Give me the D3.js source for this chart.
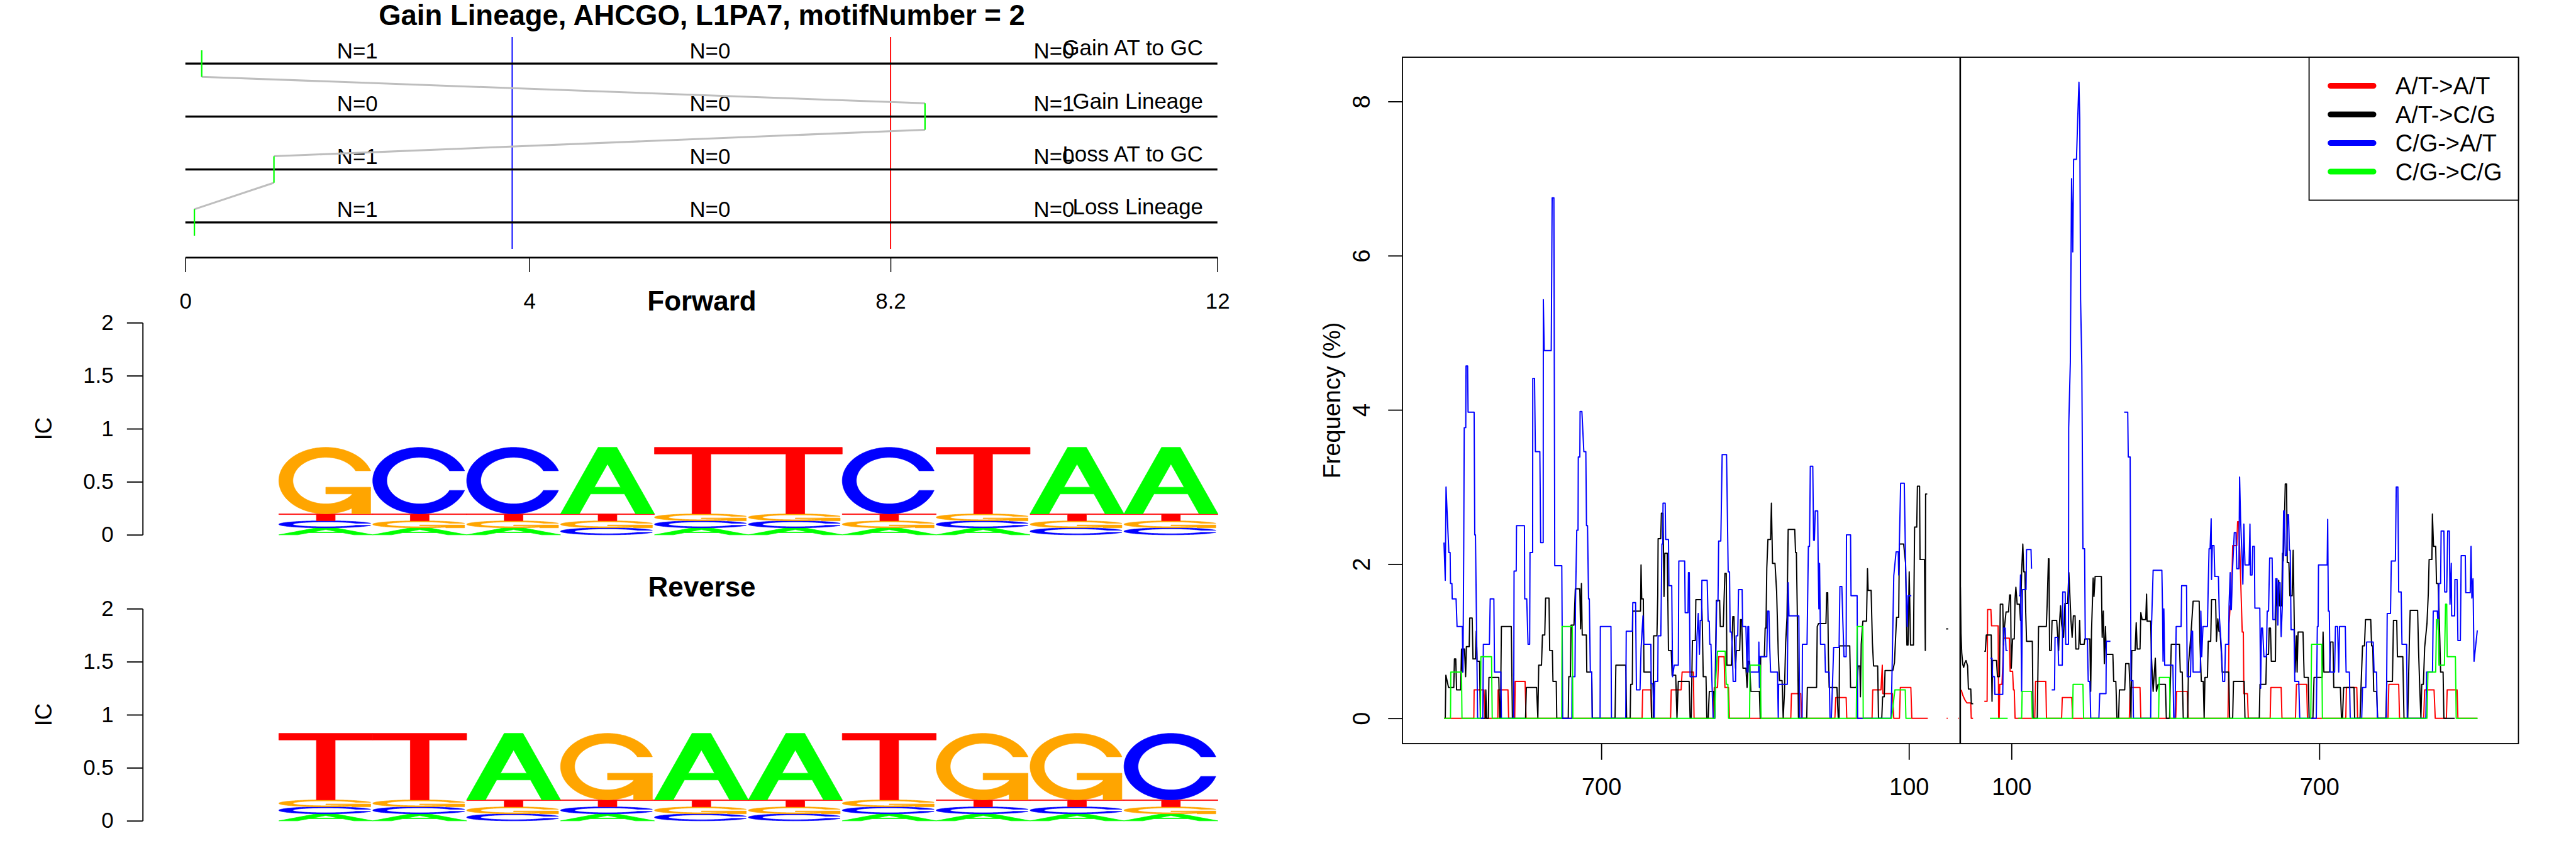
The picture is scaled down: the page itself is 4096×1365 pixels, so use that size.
<!DOCTYPE html>
<html><head><meta charset="utf-8">
<script src="https://cdn.jsdelivr.net/npm/d3@7"></script>
<style>html,body{margin:0;padding:0;background:#fff;overflow:hidden}svg{display:block}</style>
</head><body>
<svg id="chart" width="4096" height="1365" viewBox="0 0 5400 1800"></svg>
<script>
// ---------------- DATA ----------------
const mainTitle = "Gain Lineage, AHCGO, L1PA7, motifNumber = 2";
const rowLabels = ["Gain AT to GC", "Gain Lineage", "Loss AT to GC", "Loss Lineage"];
const rowPos = [4, 3, 2, 1];
const nCounts = [[1, 0, 0], [0, 0, 1], [1, 0, 0], [1, 0, 0]];
const nLabelPos = [2, 6.1, 10.1];
const topTicks = [0, 4, 8.2, 12];
const blueCut = 3.8, redCut = 8.2;
const pathPos = [0.19, 8.6, 1.03, 0.105];

const bases = ["A", "C", "G", "T"];
const fwdA = [0.08, 0.08, 0.08, 0.76, 0.08, 0.08, 0.08, 0.08, 0.76, 0.76];
const fwdC = [0.08, 0.76, 0.76, 0.08, 0.08, 0.08, 0.76, 0.08, 0.08, 0.08];
const fwdG = [0.76, 0.08, 0.08, 0.08, 0.08, 0.08, 0.08, 0.08, 0.08, 0.08];
const fwdT = [0.08, 0.08, 0.08, 0.08, 0.76, 0.76, 0.08, 0.76, 0.08, 0.08];
const icTicks = [0, 0.5, 1, 1.5, 2];

const legendLabels = ["A/T->A/T", "A/T->C/G", "C/G->A/T", "C/G->C/G"];
const seriesColors = ["#FF0000", "#000000", "#0000FF", "#00FF00"];
const freqTicks = [0, 2, 4, 6, 8];
const posTicks = [700, 100];

// left half (distance decreasing toward centre), right half (distance increasing)
const atatL = [[1007,0],[948.8,0],[948.2,0.37],[928.9,0.37],[927,0],[902,0],[901.4,0.37],[882.2,0.37],[880.9,0],[869,0],[868.1,0.48],[848.8,0.48],[846.9,0],[620.5,0],[619.4,0.37],[603.4,0.37],[602.1,0],[565,0],[563.7,0.37],[544.4,0.37],[542.5,0.6],[520.5,0.6],[519.2,0],[481.5,0],[479.8,0.4],[473.4,0.4],[471.2,0.8],[460.6,0.8],[459,0.4],[452,0.4],[450.2,0],[330.5,0],[329.2,0.32],[311,0.32],[309.1,0],[244.5,0],[242.8,0.27],[222.5,0.27],[221.3,0],[172,0],[170.6,0.37],[154.6,0.37],[152,0.69],[151,0.32],[132.2,0.32],[129.6,0],[118.5,0],[116.8,0.4],[96.3,0.4],[94.4,0],[63.3,0],null,[26.5,0],[24.5,0],null,[4,0],[2.5,0]];
const atcgL = [[1004.5,0],[1003.3,0.56],[998.1,0.4],[987.9,0.4],[986.6,0.77],[984,0.77],[982.4,0.37],[974.4,0.37],[972.8,0.9],[970.8,0.6],[969.5,0.9],[967,0.9],[964.8,0.54],[963.3,0.93],[957.8,0.93],[956.8,1.3],[952,1.3],[950.4,0.77],[945.6,0.77],[944,1.13],[942.4,0.74],[937.6,0.74],[936,0],[926.5,0],[925.4,0.37],[924,0],[920.5,0],[919.3,0.53],[900.1,0.53],[898.2,0],[896.9,0],[895,1.19],[875.7,1.19],[873.5,0],[847.9,0],[846.3,0.4],[826.4,0.4],[823.9,0],[822.2,0.69],[816.8,0.69],[814.9,1.08],[810.4,1.08],[808.8,1.56],[802.1,1.56],[800.8,0.88],[795.6,0.88],[794.4,0.48],[788,0.48],[787,0],[764.6,0],[763.6,0.54],[760.4,0.54],[759.1,1.21],[753.4,1.21],[750.8,1.68],[742.1,1.68],[740.5,1.16],[738.9,1.75],[737.3,1.08],[729.3,1.08],[728.4,0.6],[718.8,0.6],[717.5,0],[673.3,0],[671.7,0.69],[652.4,0.69],[650.8,0],[643.8,0],[642.8,0.44],[639.6,0.44],[638.7,1.39],[623.6,1.39],[622.6,1.99],[621.3,1.55],[618.2,1.55],[616.9,0.6],[603.4,0.6],[602.1,0],[598.9,0],[598,1.07],[591.6,1.07],[590,1.6],[589.3,2.33],[584.2,2.33],[582.9,2.66],[579.7,2.66],[577.8,1.58],[576.2,2.14],[571.4,2.14],[569.1,0.88],[563.7,0.88],[562,0.56],[555,0.56],[552.5,0],[549.9,0.48],[528.8,0.48],[526.9,0],[524.7,0],[522.4,1.01],[516.7,1.01],[515.7,1.54],[504.5,1.54],[503.2,1.26],[501.3,0.54],[495.9,0.54],[494.3,0],[491.7,0],[489.4,0.35],[480.8,0.35],[478.9,0],[476.7,1.04],[475.7,1.53],[469.3,1.53],[468,1.19],[462.2,1.19],[460.6,1.55],[459,1.88],[456.4,1.88],[455.2,0.69],[446.2,0.69],[443.6,1.32],[441.4,1.32],[439.8,0.88],[438.2,0.65],[436.6,0.88],[430.2,0.88],[428.6,1.28],[426.3,1.28],[423.8,0.65],[418,0.65],[415.8,0.4],[413.5,0.74],[410.9,0.74],[408.4,0.35],[391.7,0.35],[390.1,0],[389.2,0.8],[382.1,0.8],[380.5,1.17],[378.9,1.17],[377.3,1.95],[375.1,2.32],[369.9,2.32],[368.3,2.79],[366.1,2.01],[361.3,2.01],[358.1,1.64],[354.9,0.84],[352.6,0.49],[347.5,0.49],[345.3,0],[343,0.31],[340.5,0.98],[337.9,1.31],[335.6,2.45],[322.8,2.45],[321.2,2.15],[319.6,2.15],[318,1.47],[315.5,0],[299.4,0],[298.2,0.4],[280.2,0.4],[278.9,1.19],[276.4,1.23],[261.9,1.23],[260.4,1.63],[258.5,1.63],[257.2,0.83],[255.6,0.4],[240.5,0.4],[237.9,0],[236.3,0],[235.4,0.94],[215.5,0.94],[213.9,0.4],[202.7,0.4],[198.9,0.68],[195.7,0.68],[194.7,0.28],[193.1,0.96],[189.9,1.26],[182.8,1.26],[180.9,1.94],[179.6,1.66],[173.8,1.66],[171.3,0.98],[169,0.68],[161,0.68],[159.4,0],[153,0],[151.4,0.28],[148.2,0.28],[146.6,0.62],[131.5,0.62],[128.3,0.72],[124.2,1.31],[120,1.31],[118.7,2.26],[110.4,2.26],[106.6,2.02],[104,0.95],[101.8,0.95],[99.5,1.9],[96.9,0.95],[91.2,0.95],[89,2.48],[84.8,2.48],[83.5,3.01],[79.3,3.01],[78.4,2.06],[69.7,2.06],[68.1,0.88],[67.5,2.91],[64.3,2.91],null,[27.5,1.16],[23.5,1.16]];
const cgatL = [[1007,2.28],[1004.5,1.79],[1003,3.0],[997.5,2.15],[995,2.15],[994.3,1.75],[991.5,1.75],[991,1.55],[983.4,1.55],[981.5,1.19],[971.2,1.19],[970,0.6],[968.5,2.19],[967.5,3.77],[964.5,3.77],[964,4.57],[960.9,4.57],[960,3.97],[948.2,3.97],[947,2.38],[945.6,2.38],[941.4,0],[931.2,0],[930.2,0.96],[918.4,0.96],[916.8,1.55],[909.7,1.55],[908.4,0.6],[896,0.6],[895,0],[871,0],[870.3,1.91],[866.1,1.91],[865.5,2.5],[850.1,2.5],[849.5,1.55],[845.6,1.55],[843,0.96],[839.9,0.96],[839.2,2.15],[834.1,2.15],[833.8,4.41],[830.4,4.41],[828.7,3.46],[820,3.46],[818.4,2.28],[813.5,2.28],[813.2,5.43],[811.5,4.77],[797.8,4.77],[796,6.75],[792.6,6.75],[790.9,1.98],[777.2,1.98],[775.4,0],[757.5,0],[757.2,0.54],[751.5,0.54],[750.5,1.48],[748,2.44],[745.5,2.44],[745,3.39],[742,3.39],[741.5,3.98],[738,3.98],[734.2,3.46],[730.3,3.46],[729,2.5],[727,2.5],[725,1.55],[723.5,1.55],[721.5,0.6],[718.8,0.6],[718,0],[702.5,0],[702,1.19],[681.3,1.19],[680.3,0],[652.5,0],[651.5,1.13],[639.6,1.13],[638.7,1.5],[633.2,1.5],[631.6,0.37],[624.6,0.37],[622.6,0.9],[618.8,1.33],[617.2,0.96],[603.4,0.96],[602.8,0.45],[599.6,0.45],[597,0],[595.8,0.48],[590,0.48],[589.4,1.07],[584,1.07],[581.9,2.26],[580.3,2.26],[579.7,2.79],[575.5,2.79],[574.6,2.32],[569.1,2.32],[568.2,1.72],[562.7,1.72],[561.1,0.54],[557.9,0.69],[549.9,0.69],[548.9,2.04],[537.5,2.04],[536.5,1.37],[531,1.37],[530.1,1.89],[528.5,1.89],[526.9,0.54],[515,0.54],[513.5,1.06],[511,1.36],[508.7,0.83],[507.1,1.27],[504.5,1.27],[503.9,1.79],[493.6,1.79],[491.7,1.26],[489.5,1.26],[488.5,0.96],[486.2,0.96],[484.6,0.54],[482,0],[478.9,0],[477.6,0.45],[475,1.52],[472.5,1.52],[471.2,2.3],[467,2.3],[465.4,2.98],[464.4,3.42],[455.8,3.42],[452.6,1.9],[450,1.9],[448.8,1.12],[446.2,1.12],[444.6,0.92],[443,0.48],[438.2,0.48],[437.2,1.07],[434,1.07],[432.4,1.67],[425.4,1.67],[424.4,1.19],[418,1.19],[415.8,0.6],[414.2,1.19],[412.6,1.19],[411.6,0.6],[393.3,0.6],[392.8,0.99],[391.7,0.4],[391,0.8],[377.3,0.8],[375.7,1.39],[373.1,1.39],[371.9,0.99],[369.9,0.6],[356.5,0.6],[354.9,0],[354.2,0.44],[337.3,0.44],[335.6,1.76],[334,1.33],[314.8,1.33],[313.2,0],[308.4,0],[307.8,0.96],[298.8,0.96],[296.2,2.23],[294,2.23],[292.4,3.27],[287.6,3.27],[286,2.31],[284.4,2.31],[282.8,2.69],[278,2.69],[277,2.01],[275.7,1.42],[274.4,2.01],[272.5,0.96],[264.2,0.96],[262.9,0.6],[255.6,0.6],[254,0],[251.4,0],[249.1,0.45],[246.9,0.92],[236.3,0.92],[234.7,1.71],[230.9,1.71],[229,1.27],[226.7,0.8],[222.5,0.8],[221.9,2.38],[213.9,2.38],[213,1.59],[201.1,1.59],[200.1,0],[135,0],[133.8,0.31],[129.6,1.85],[125.1,2.16],[120.9,2.16],[120,1.86],[116.2,3.05],[109.1,3.05],[106.6,2.01],[105,1.5],[103.4,1.19],[101.8,1.59],[95.4,1.59]];
const cgcgL = [[1007,0],[994.3,0],[993.7,0.6],[972.8,0.6],[971.9,0],[936,0],[935,0.8],[914.2,0.8],[912.9,0],[777.4,0],[776.7,1.19],[756.6,1.19],[755.6,0],[478.9,0],[477.6,0.44],[473.4,0.87],[458.4,0.87],[456.4,0.44],[453.2,0.44],[452,0],[410.9,0],[410,0.69],[390.1,0.69],[388.5,0],[202.7,0],[201.1,1.19],[189.9,1.19],[189.2,0],[133.8,0],[127.4,0.37],[107.2,0.37],[105.9,0],[95.4,0]];

const atatR = [[2,0.37],[5,0.3],[9,0.24],[13,0.2],[20.5,0.2],[21.5,0],[25,0],null,[47,0.22],[52.4,0.22],[53.4,1.41],[59.8,1.41],[61.1,1.2],[73.9,1.2],[74.9,0],[76,0],[77.1,0.44],[81.3,0.44],[82.9,0.68],[84.5,1.04],[95.7,1.04],[97.3,0.61],[102.1,0.61],[103.7,0.37],[105.3,0.37],[106.9,0],[145.3,0],[146.9,0.48],[166.8,0.48],[168.1,0],[197.6,0],[198.9,0.27],[217.4,0.27],[219,0],[329.6,0],[331.2,0.4],[350.4,0.4],[352,0],[420,0],[421.8,0.35],[442.4,0.35],[444.3,0],[521.8,0],[523,0.48],[524,1.23],[526.2,1.46],[528,1.46],[529.4,1.74],[531,2.24],[539,2.24],[540.6,2.55],[542.5,2.55],[545.4,2.09],[547.7,1.55],[549.6,1.12],[551.8,1.12],[552.8,0.32],[559.8,0.32],[561.4,0],[604.1,0],[605.4,0.4],[625.5,0.4],[627.1,0],[653.4,0],[655.3,0.44],[675.2,0.44],[676.8,0],[751.5,0],[752.7,0.4],[772.9,0.4],[774.5,0],[833.8,0],[835.4,0.44],[854.6,0.44],[856.2,0],[903.3,0],[905.2,0.37],[923.5,0.37],[925.8,0],[947.5,0],[949.1,0.37],[968.4,0.37],[970,0],[1008,0]];
const atcgR = [[0.3,1.7],[1.5,1.1],[3,0.85],[5,0.7],[6.7,0.66],[9,0.72],[11.3,0.75],[14.4,0.68],[16,0.38],[20.6,0.38],[21.6,0.19],[25.3,0.19],null,[47,0.87],[49,0.87],[50.8,1.08],[60.4,1.08],[62,0.22],[63,0.75],[70.7,0.75],[72.6,0.54],[76.5,0.54],[78.1,1.48],[82.9,1.48],[84.5,0.95],[86,1.17],[89.3,1.38],[94.1,1.38],[96.3,1.6],[98.2,1.6],[99.5,0.65],[102.1,1.03],[105.3,1.03],[106.9,1.55],[108.5,1.7],[111,1.48],[115.5,1.48],[117.5,1.27],[119.7,1.9],[122,2.26],[123.9,1.9],[126.1,1.9],[127.7,1.37],[129.3,1.0],[140.5,1.0],[142.1,0],[150.2,0],[152.7,1.19],[167.8,1.19],[169.4,1.47],[171.9,2.07],[173,2.07],[174.2,0.88],[177.4,0.88],[179,1.27],[188,1.27],[191.8,0.88],[193.4,1.22],[195.6,1.46],[197.6,1.22],[201.4,1.05],[204,1.49],[209.4,1.49],[211.7,1.89],[213.6,1.62],[215.8,1.27],[218.1,1.05],[220.6,1.33],[223.8,1.33],[225.4,0.9],[230.9,0.9],[232.8,1.27],[234.1,0.96],[241.5,0.96],[243,1.03],[252.7,1.03],[254.3,0.35],[255.9,1.13],[259.1,1.82],[260.7,1.58],[262.9,1.84],[275.1,1.84],[276.7,1.05],[278.9,1.39],[280.9,0.71],[283.1,1.19],[284.7,0.83],[297.5,0.83],[299.1,0.48],[303.3,0.48],[305.5,0],[308.7,0],[310.3,0.37],[320.6,0.37],[322.5,0.71],[328.9,0.71],[331.2,0.35],[332.8,0],[334.4,0.88],[340.8,0.88],[343,1.24],[344.9,0.9],[350.4,0.9],[352,1.37],[354.6,1.28],[361.6,1.28],[363.2,1.61],[364.2,1.26],[371.2,1.26],[372.8,0.78],[376,0.35],[380.2,0.78],[382.4,0.35],[385.6,0.44],[400,0.44],[401.7,0],[408,0],[411.3,0.96],[427.3,0.96],[428.9,0.6],[432.7,0.6],[434.7,0],[443.3,0],[445,0.71],[449.8,1.1],[453.9,1.52],[465.7,1.52],[467.3,0.98],[469.9,0.48],[473.7,0.48],[475.4,0],[477,0.53],[481.8,0.53],[483.4,1.0],[488.2,1.0],[489.8,1.54],[497.8,1.54],[499.4,1.0],[502,1.29],[504.2,1.13],[506.4,1.13],[508.9,0.85],[510.6,0.6],[523.4,0.6],[525,0],[531,0],[532.6,0.48],[553.4,0.48],[555,0],[582.9,0],[584.2,0.44],[595.7,0.44],[597,0.83],[600.9,0.83],[602.1,1.17],[604.7,1.17],[606.3,0.74],[614.3,0.74],[615.9,1.79],[618.1,1.46],[620.7,1.79],[622.3,1.46],[626.5,1.46],[628.1,2.14],[629.7,2.04],[631.9,2.56],[633.5,3.04],[636.1,3.04],[637.4,2.02],[640.6,2.02],[642.5,1.59],[647,1.59],[648.9,2.18],[651.2,1.17],[652.8,0.6],[655.3,1.07],[656.6,0.6],[658.5,1.12],[668.1,1.12],[670.4,0.53],[678.4,0.53],[680,0],[687.4,0],[689.6,0.53],[705.6,0.53],[707.2,1.12],[708.8,0.6],[720,0.6],[721.6,0.99],[726.5,0.99],[728.1,0.4],[740.9,0.4],[743.1,0],[745,0],[747.3,0.4],[767.5,0.4],[768.7,0],[779.3,0],[780.9,0.35],[784.1,0.94],[787.9,0.94],[789.9,1.28],[800.1,1.28],[801.8,0.94],[804,0.94],[805.9,0.35],[811.4,0.35],[813.6,0],[829.6,0],[831.5,0.48],[842.4,0.48],[844.4,1.27],[850.8,1.27],[852.1,0.8],[862.6,0.8],[864.9,0],[872.2,0],[873.8,0.48],[875.4,1.01],[877,1.4],[891.5,1.4],[893.1,0.93],[895.6,0.4],[897.9,0],[899.5,0.44],[902.7,0.44],[905.2,0.92],[909.7,1.23],[912.3,1.62],[913.9,2.06],[919.3,2.06],[920.3,2.65],[922.5,2.23],[926.7,2.23],[928.3,1.75],[931.5,1.75],[934.7,1.03],[936.3,0.6],[941.1,0.6],[942.7,0],[963.6,0]];
const cgatR = [[58.8,0.78],[62,0.78],[63,0.54],[66.8,0.54],[67.5,0.31],[82.9,0.31],[84.5,1.17],[87.7,1.17],[89.3,0.88],[92.5,0.88],null,[114.3,1.59],[116.5,1.59],[117.5,1.86],[119.7,0.35],[121.3,1.67],[128.3,1.67],[129.3,2.19],[138,2.19],[139,1.94],null,[178.3,0.37],[183.8,0.37],[184.8,1.05],[190.2,1.05],[191.8,0.69],[198.9,0.69],[199.8,1.64],[204.6,1.64],[205.6,0.96],[211,0.96],[211.4,3.77],[214.6,4.62],[217,7.0],[219.4,6.05],[221,7.25],[226.6,7.25],[229,7.77],[231.4,8.25],[233,7.77],[234.6,5.43],[237,4.58],[239.2,2.2],[242.4,2.2],[243.7,1.03],[247.9,1.03],[249.5,0.48],[252.7,0.48],[254.3,0],[270.3,0],[271.9,0.32],[284.1,0.32],[284.7,1.0],[292.7,1.0],null,[319.5,3.97],[326.5,3.97],[327.5,3.39],[331.2,3.39],[332.8,0.49],[336.6,0.49],[337.6,0],[371.2,0],[372.8,1.19],[376,1.92],[393,1.92],[394.3,1.42],[395.3,0.74],[396.9,1.42],[398.5,0.69],[414.5,0.69],[416.1,0],[418.6,0],[420.9,1.19],[430.5,1.19],[431.5,1.72],[441.1,1.72],[442.4,0.54],[448.8,0.54],[450.7,1.13],[452.9,1.13],[453.9,0.6],[468,0.6],[469,1.39],[470.7,0.8],[473.1,1.19],[481.8,1.19],[483.4,1.72],[485,2.2],[487,2.2],[489.1,2.59],[489.8,1.8],[491.4,2.24],[494.6,2.24],[496.2,1.84],[503.2,1.84],[505.1,1.31],[509,0.92],[511.6,0.48],[515.4,0.48],[517,0.96],[523,0.96],[524,1.48],[526.2,1.89],[527.2,1.41],[528.5,1.41],[530.4,1.89],[534.2,2.41],[537.4,2.41],[539,1.94],[543.2,1.94],[544.5,3.13],[546.4,2.59],[548.6,2.2],[550.9,1.74],[552.8,2.52],[555,1.99],[563,1.99],[564.7,2.52],[565.6,1.86],[568.8,1.86],[570.1,2.23],[573.3,2.23],[574.3,1.43],[583.9,1.43],[585.5,0.39],[587.1,1.17],[589.3,1.17],[591.9,0.8],[596.7,0.8],[598.3,1.39],[600.9,1.39],[603.1,2.08],[607.9,2.08],[609.5,1.28],[613.7,1.28],[615,1.81],[617.5,1.81],[619.1,1.21],[620.7,1.76],[623.3,1.76],[625.5,1.06],[627.8,1.46],[630.3,2.69],[631.9,2.69],[633.5,2.11],[636.1,2.11],[638.3,2.64],[639.9,2.64],[641.6,2.18],[643.2,2.18],[644.8,1.15],[650.6,1.15],[652.1,0.48],[659.8,0.48],[661.7,0],[694,0],[696,1.19],[697.5,1.19],[698.3,1.99],[715.2,1.99],[716.2,2.58],[717.5,1.39],[719.4,1.39],[720.7,0.6],[729.7,0.6],[731.3,1.19],[735.5,1.19],[737.7,0.6],[739.3,1.19],[750.5,1.19],[752.1,0.6],[758.5,0.6],[760.1,0],[782.5,0],[784.1,0.4],[790.5,0.4],[792.1,0.99],[804.9,0.99],[806.6,0.6],[811.4,0.6],[813,0],[830.6,0],[832.2,1.36],[838.6,1.36],[840.2,2.04],[848.2,2.04],[849.8,3.0],[853,3.0],[854.6,1.64],[859.4,1.64],[861,0.96],[870,0.96],[871.3,0],[907.5,0],[909.1,0.6],[920.5,0.6],[921.9,1.39],[929.9,1.39],[931.5,1.15],[933.1,1.75],[936.3,1.75],[937.3,2.43],[942.7,2.43],[944.3,1.64],[948.2,1.64],[950.1,2.43],[953.3,2.43],[954.6,1.48],[957.1,2.01],[957.8,1.33],[963.6,1.33],[964.2,1.8],[968.4,1.8],[970,1.01],[974.8,1.01],[976.4,2.11],[984.4,2.11],[985.3,1.63],[994,1.63],[995.6,2.23],[997.2,1.56],[999.4,1.81],[1001.4,0.74],[1007.8,1.14]];
const cgcgR = [[57.9,0],[92.5,0],null,[113.3,0],[119.7,0],[120.7,0.35],[138.9,0.35],[140.5,0],[219,0],[220,0.44],[239.2,0.44],[240.5,0],[386.6,0],[387.9,0.53],[408.1,0.53],[409,0],[683.2,0],[684.8,0.96],[704.7,0.96],[705.9,0],[909.7,0],[911.6,0.6],[926.7,0.6],[928.3,1.28],[931.5,1.28],[933.1,0.69],[943.7,0.69],[945.9,1.48],[948.2,1.48],[949.1,0.8],[965.1,0.8],[966.7,0],[1008.4,0]];

// ---------------- DRAWING ----------------
const FONT = "'Liberation Sans', Arial, Helvetica, sans-serif";
const svg = d3.select("#chart");
svg.append("rect").attr("width", 5400).attr("height", 1800).attr("fill", "#fff");

// ===== top panel =====
const topX = d3.scaleLinear().domain([0, 12]).range([388, 2552]);
const topY = d3.scaleLinear().domain([0.34, 4.66]).range([540, 60]);
const gTop = svg.append("g");

gTop.append("text").text(mainTitle).attr("x", 1471).attr("y", 53)
  .attr("text-anchor", "middle").attr("font-family", FONT).attr("font-weight", "bold").attr("font-size", 60);

[[blueCut, "#0000FF"], [redCut, "#FF0000"]].forEach(([v, c]) => {
  gTop.append("line").attr("x1", topX(v)).attr("x2", topX(v)).attr("y1", topY(4.5)).attr("y2", topY(0.5))
    .attr("stroke", c).attr("stroke-width", 2.5);
});
rowPos.forEach((r, i) => {
  gTop.append("line").attr("x1", topX(0)).attr("x2", topX(12)).attr("y1", topY(r)).attr("y2", topY(r))
    .attr("stroke", "#000").attr("stroke-width", 4);
  nCounts[i].forEach((n, j) => {
    gTop.append("text").text("N=" + n).attr("x", topX(nLabelPos[j])).attr("y", topY(r + 0.25) + 16.5)
      .attr("text-anchor", "middle").attr("font-family", FONT).attr("font-size", 46);
  });
  gTop.append("text").text(rowLabels[i]).attr("x", topX(12) - 30).attr("y", topY(r + 0.3) + 16.5)
    .attr("text-anchor", "end").attr("font-family", FONT).attr("font-size", 46);
});
// path of the lineage
for (let i = 0; i < pathPos.length - 1; i++) {
  gTop.append("line").attr("x1", topX(pathPos[i])).attr("y1", topY(rowPos[i] - 0.25))
    .attr("x2", topX(pathPos[i + 1])).attr("y2", topY(rowPos[i + 1] + 0.25))
    .attr("stroke", "#BEBEBE").attr("stroke-width", 4);
}
pathPos.forEach((p, i) => {
  gTop.append("line").attr("x1", topX(p)).attr("x2", topX(p)).attr("y1", topY(rowPos[i] + 0.25)).attr("y2", topY(rowPos[i] - 0.25))
    .attr("stroke", "#00FF00").attr("stroke-width", 3);
});
const gTopAxis = gTop.append("g").attr("transform", `translate(0,${topY(0.34)})`)
  .call(d3.axisBottom(topX).tickValues(topTicks).tickSize(31).tickSizeOuter(0).tickPadding(44).tickFormat(d => String(d)));
gTopAxis.attr("font-size", null).attr("font-family", null);
gTopAxis.select(".domain").attr("stroke-width", 3.5);
gTopAxis.selectAll(".tick line").attr("stroke-width", 2);
gTopAxis.selectAll(".tick text").attr("font-size", 46).attr("font-family", FONT).attr("fill", "#000");

// ===== sequence logos =====
const colors = {A: "#00FF00", C: "#0000FF", G: "#FFA500", T: "#FF0000"};
const logoX = d3.scaleBand().domain(d3.range(10)).range([584, 2553]).paddingInner(0).paddingOuter(0);

function seqRange(a, b, n) { return d3.range(n).map(i => a + (b - a) * i / (n - 1)); }
function ringShape() {
  const a1 = seqRange(0.3 + Math.PI / 2, Math.PI, 100), a2 = seqRange(Math.PI, 1.5 * Math.PI, 100);
  const xl1 = a1.map(a => 0.5 + 0.5 * Math.sin(a)), yl1 = a1.map(a => 0.5 + 0.5 * Math.cos(a));
  const xl2 = a2.map(a => 0.5 + 0.5 * Math.sin(a)), yl2 = a2.map(a => 0.5 + 0.5 * Math.cos(a));
  const xl = xl1.concat(xl2), yl = yl1.concat(yl2);
  const x = xl.concat(xl.slice().reverse()), y = yl.concat(yl.slice().reverse().map(v => 1 - v));
  const maxY = d3.max(yl1);
  let xi1 = a1.map(a => 0.5 + 0.35 * Math.sin(a)), yi1 = a1.map(a => 0.5 + 0.35 * Math.cos(a));
  const keep = yi1.map(v => v <= maxY);
  xi1 = xi1.filter((v, i) => keep[i]); yi1 = yi1.filter((v, i) => keep[i]); yi1[0] = maxY;
  const xi2 = a2.map(a => 0.5 + 0.35 * Math.sin(a)), yi2 = a2.map(a => 0.5 + 0.35 * Math.cos(a));
  const xi = xi1.concat(xi2), yi = yi1.concat(yi2);
  const x1 = xi.concat(xi.slice().reverse()), y1 = yi.concat(yi.slice().reverse().map(v => 1 - v));
  const X = x.concat(x1.slice().reverse()), Y = y.concat(y1.slice().reverse());
  return {pts: X.map((v, i) => [v, Y[i]]), r1: d3.max(xl1)};
}
const ring = ringShape();
const letterShapes = {
  A: [[[[0,0],[0.4,1],[0.6,1],[1,0],[0.8,0],[0.68,0.3],[0.32,0.3],[0.2,0],[0,0]], [[0.36,0.4],[0.5,0.75],[0.64,0.4],[0.36,0.4]]]],
  T: [[[[0,1],[1,1],[1,0.9],[0.6,0.9],[0.6,0],[0.4,0],[0.4,0.9],[0,0.9]]]],
  C: [[ring.pts]],
  G: [[ring.pts], [[[ring.r1,0.4],[0.5,0.4],[0.5,0.3],[ring.r1-0.2,0.3],[ring.r1-0.2,0],[ring.r1,0],[ring.r1,0.4]]]]
};
function polyPath(rings, x0, yb, w, h) {
  return rings.map(r => "M" + r.map(p => (x0 + p[0] * w).toFixed(2) + "," + (yb - p[1] * h).toFixed(2)).join("L") + "Z").join("");
}
function drawLogo(probs, yScale, title, titleY) {
  const g = svg.append("g");
  g.append("text").text(title).attr("x", 1471).attr("y", titleY).attr("text-anchor", "middle")
    .attr("font-family", FONT).attr("font-weight", "bold").attr("font-size", 58);
  const n = probs.A.length;
  for (let i = 0; i < n; i++) {
    const p = bases.map(b => probs[b][i]);
    const ic = 2 + d3.sum(p, v => v > 0 ? v * Math.log2(v) : 0);
    const items = bases.map((b, k) => ({b, h: p[k] * ic}));
    const order = items.slice().sort((a, c) => a.h - c.h);
    let base = 0;
    order.forEach(it => {
      const yb = yScale(base), yt = yScale(base + it.h);
      const hpx = yb - yt, x0 = logoX(i), w = logoX.bandwidth();
      letterShapes[it.b].forEach(shape => {
        g.append("path").attr("d", polyPath(shape, x0, yb, w, hpx)).attr("fill", colors[it.b])
          .attr("fill-rule", "evenodd").attr("stroke", colors[it.b]).attr("stroke-width", 1);
      });
      base += it.h;
    });
  }
  const ax = g.append("g").attr("transform", "translate(298.5,0)")
    .call(d3.axisLeft(yScale).tickValues(icTicks).tickSize(33).tickSizeOuter(0).tickPadding(28).tickFormat(d => String(d)));
  ax.attr("font-size", null).attr("font-family", null);
  ax.select(".domain").attr("stroke-width", 2.5);
  ax.selectAll(".tick line").attr("stroke-width", 2.5);
  ax.selectAll(".tick text").attr("font-size", 46).attr("font-family", FONT).attr("fill", "#000");
  g.append("text").text("IC").attr("transform", `translate(108,${yScale(1)}) rotate(-90)`)
    .attr("text-anchor", "middle").attr("font-family", FONT).attr("font-size", 48);
}
const fwdProbs = {A: fwdA, C: fwdC, G: fwdG, T: fwdT};
const revProbs = {A: fwdT.slice().reverse(), C: fwdG.slice().reverse(), G: fwdC.slice().reverse(), T: fwdA.slice().reverse()};
drawLogo(fwdProbs, d3.scaleLinear().domain([0, 2]).range([1122, 677]), "Forward", 652);
drawLogo(revProbs, d3.scaleLinear().domain([0, 2]).range([1722, 1277]), "Reverse", 1252);

// ===== right panel =====
const rY = d3.scaleLinear().domain([0, 8]).range([1507, 213]);
const xL = d3.scaleLinear().domain([1088, 0]).range([2940, 4109.5]);
const xR = d3.scaleLinear().domain([0, 1088]).range([4109.5, 5280]);
const gR = svg.append("g");
const leftSeries = [atatL, atcgL, cgatL, cgcgL];
const rightSeries = [atatR, atcgR, cgatR, cgcgR];
seriesColors.forEach((c, k) => {
  const lineL = d3.line().defined(d => d !== null).x(d => xL(d[0])).y(d => rY(d[1]));
  const lineR = d3.line().defined(d => d !== null).x(d => xR(d[0])).y(d => rY(d[1]));
  gR.append("path").attr("d", lineL(leftSeries[k])).attr("fill", "none").attr("stroke", c).attr("stroke-width", 2.6).attr("stroke-linejoin", "round");
  gR.append("path").attr("d", lineR(rightSeries[k])).attr("fill", "none").attr("stroke", c).attr("stroke-width", 2.6).attr("stroke-linejoin", "round");
});
gR.append("rect").attr("x", xL(1088)).attr("y", 120).attr("width", xR(1088) - xL(1088)).attr("height", 1440)
  .attr("fill", "none").attr("stroke", "#000").attr("stroke-width", 2.4);
gR.append("line").attr("x1", xL(0)).attr("x2", xL(0)).attr("y1", 120).attr("y2", 1560).attr("stroke", "#000").attr("stroke-width", 3.4);

const gYA = gR.append("g").attr("transform", `translate(${xL(1088)},0)`)
  .call(d3.axisLeft(rY).tickValues(freqTicks).tickSize(30).tickSizeOuter(0));
gYA.attr("font-size", null).attr("font-family", null);
gYA.select(".domain").remove();
gYA.selectAll(".tick line").attr("stroke-width", 2.4);
gYA.selectAll(".tick text").attr("x", null).attr("dy", null).attr("text-anchor", "middle")
  .attr("transform", "translate(-69,0) rotate(-90)").attr("font-size", 50).attr("font-family", FONT).attr("fill", "#000");
gR.append("text").text("Frequency (%)").attr("transform", "translate(2809,840) rotate(-90)")
  .attr("text-anchor", "middle").attr("font-family", FONT).attr("font-size", 50);

[xL, xR].forEach(sc => {
  const ga = gR.append("g").attr("transform", "translate(0,1560)")
    .call(d3.axisBottom(sc).tickValues(posTicks).tickSize(34).tickSizeOuter(0).tickPadding(38));
  ga.attr("font-size", null).attr("font-family", null);
  ga.select(".domain").remove();
  ga.selectAll(".tick line").attr("stroke-width", 2.4);
  ga.selectAll(".tick text").attr("font-size", 50).attr("font-family", FONT).attr("fill", "#000");
});

// legend
const gLeg = gR.append("g");
gLeg.append("rect").attr("x", 4841).attr("y", 120).attr("width", 5280 - 4841).attr("height", 300)
  .attr("fill", "#fff").attr("stroke", "#000").attr("stroke-width", 2.4);
legendLabels.forEach((lab, k) => {
  const y = 180 + k * 60;
  gLeg.append("line").attr("x1", 4886).attr("x2", 4976).attr("y1", y).attr("y2", y)
    .attr("stroke", seriesColors[k]).attr("stroke-width", 12).attr("stroke-linecap", "round");
  gLeg.append("text").text(lab).attr("x", 5022).attr("y", y + 18)
    .attr("font-family", FONT).attr("font-size", 50);
});
</script>
</body></html>
